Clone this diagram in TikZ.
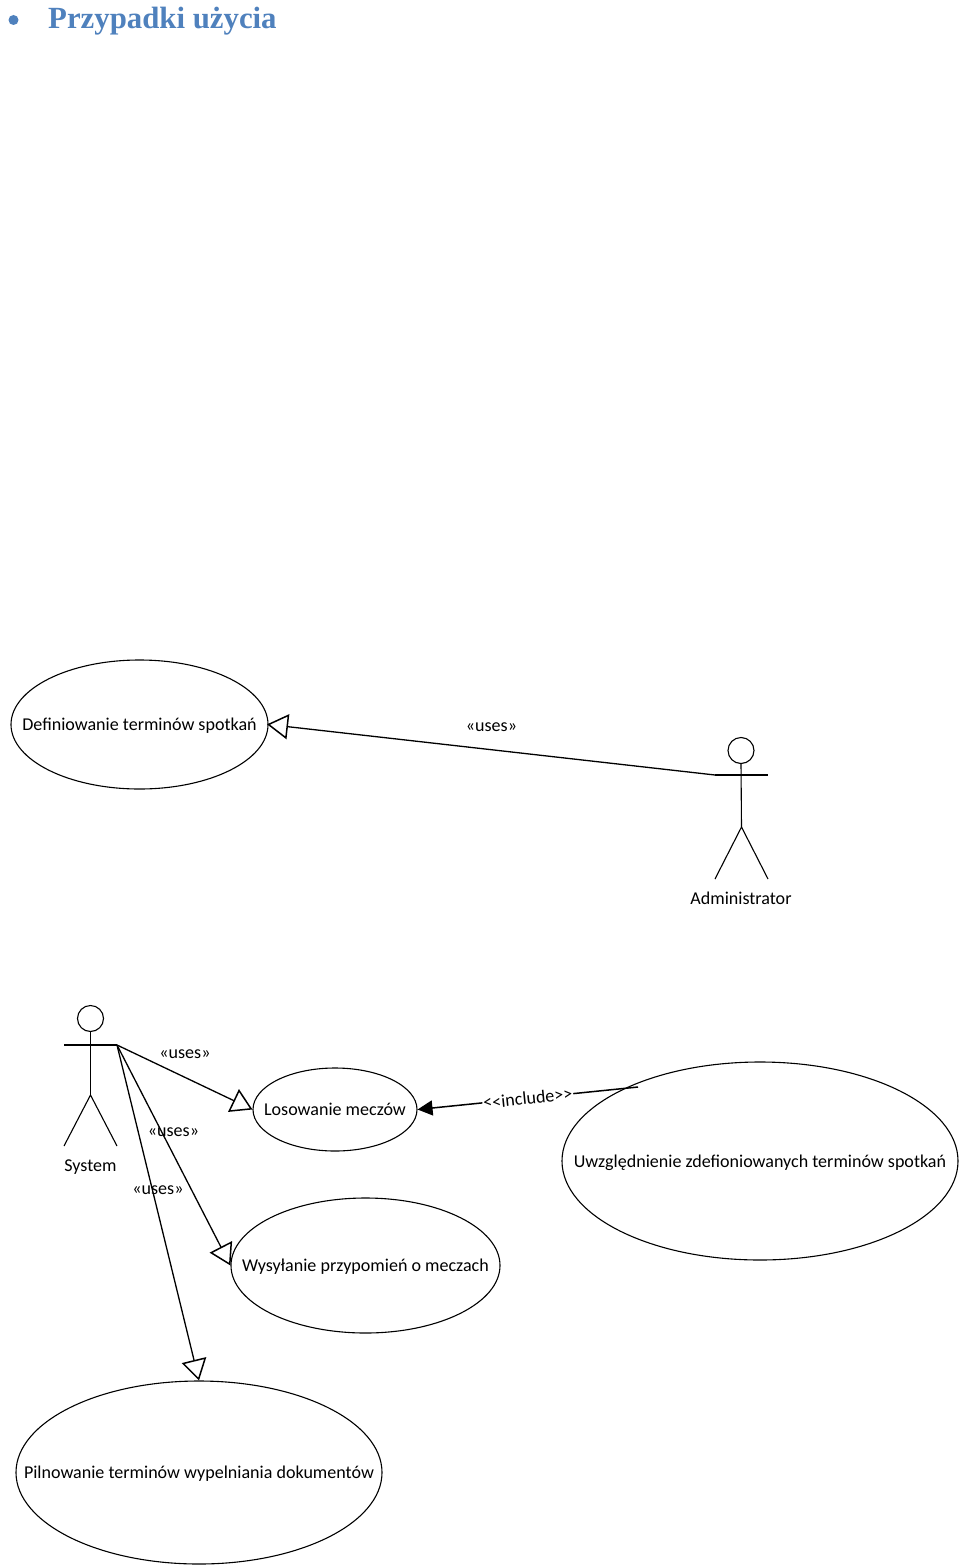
\documentclass[tikz,border=0pt]{standalone}
\usepackage{fontspec}
\setmainfont{Carlito}
\newfontfamily\titlefont{Liberation Serif}
\usetikzlibrary{shapes.geometric,arrows.meta}
\definecolor{titleblue}{HTML}{4F81BD}
\newcommand{\uctext}[2][-1pt]{\raisebox{#1}[\height][\depth]{\makebox[0pt]{#2}}}
\tikzset{
  x=1pt,y=-1pt,
  usecase/.style={draw,ellipse,inner sep=0pt,line width=1.1pt,font=\fontsize{18.05}{20}\selectfont},
  label text/.style={inner sep=0pt,font=\fontsize{18.05}{20}\selectfont},
  actorline/.style={line width=1.1pt},
  uses/.style={line width=1.3pt,-{Triangle[open,length=21pt,width=25pt,line width=1.5pt]}},
  includes/.style={line width=1.5pt,-{Triangle[length=15pt,width=15pt]}},
}
\begin{document}
\begin{tikzpicture}
\useasboundingbox (0,0) rectangle (960,1565);
\node[circle,fill=titleblue,minimum size=10pt,inner sep=0pt] (bullet) at (13.5,20) {};
\node[anchor=base west,inner sep=0pt,text=titleblue,font=\titlefont\bfseries\fontsize{30.8}{32}\selectfont] (title) at (48,29) {Przypadki użycia};

\node[usecase,minimum width=257pt,minimum height=129pt] (def) at (139.5,724.5) {\uctext{Definiowanie terminów spotkań}};
\node[usecase,minimum width=164pt,minimum height=83pt] (los) at (335,1109.5) {\uctext[0pt]{Losowanie meczów}};
\node[usecase,minimum width=396pt,minimum height=198pt] (uwz) at (760,1161) {\uctext[-2pt]{Uwzględnienie zdefioniowanych terminów spotkań}};
\node[usecase,minimum width=269pt,minimum height=135pt] (wys) at (365.5,1265.5) {\uctext{Wysyłanie przypomień o meczach}};
\node[usecase,minimum width=366pt,minimum height=183pt] (pil) at (199,1472.5) {\uctext{Pilnowanie terminów wypelniania dokumentów}};

% Administrator
\node[draw,circle,actorline,minimum size=26pt,inner sep=0pt] (adminhead) at (741,750.5) {};
\coordinate (adminhip) at (741.5,827);
\coordinate (adminL) at (715,775);
\coordinate (adminR) at (768,775);
\coordinate (adminfootL) at (715,879);
\coordinate (adminfootR) at (768,879);
\draw[actorline] (adminhead.south) -- (adminhip);
\draw[actorline] (adminL) -- (adminR);
\draw[actorline] (adminfootL) -- (adminhip) -- (adminfootR);
\node[label text] (adminlabel) at (741,898) {Administrator};

% System
\node[draw,circle,actorline,minimum size=26pt,inner sep=0pt] (syshead) at (90.5,1018.5) {};
\coordinate (syship) at (90.5,1095);
\coordinate (sysL) at (64,1045);
\coordinate (sysR) at (117,1045);
\coordinate (sysfootL) at (64,1146);
\coordinate (sysfootR) at (117,1146);
\draw[actorline] (syshead.south) -- (syship);
\draw[actorline] (sysL) -- (sysR);
\draw[actorline] (sysfootL) -- (syship) -- (sysfootR);
\node[label text] (syslabel) at (90.5,1167.5) {System};

% connectors
\draw[uses,shorten >=-1.5pt] (adminL) -- (def.east);
\draw[uses] (sysR) -- (los.west);
\draw[uses] (sysR) -- (wys.west);
\draw[uses] (sysR) -- (pil.north);
\coordinate (uwzend) at (638,1087);
\draw[includes] (uwzend) -- node[midway,sloped,fill=white,inner sep=1pt,font=\fontsize{18.05}{20}\selectfont] (inclabel) {<{}<include>{}>} (los.east);

\node[label text] (uses1) at (491.5,727) {«uses»};
\node[label text] (uses2) at (185,1054) {«uses»};
\node[label text] (uses3) at (173.5,1132) {«uses»};
\node[label text] (uses4) at (158,1190) {«uses»};
\end{tikzpicture}
\end{document}
